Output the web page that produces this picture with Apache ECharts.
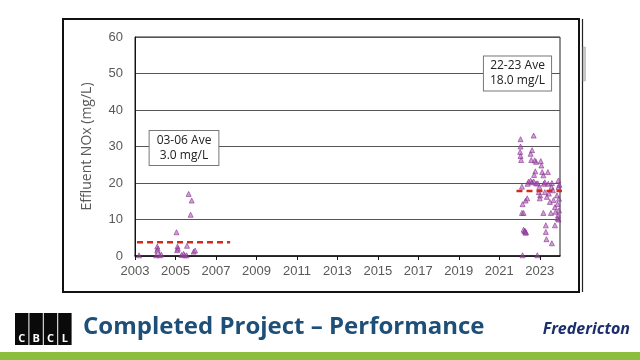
<!DOCTYPE html>
<html>
<head>
<meta charset="utf-8">
<script src="https://cdn.jsdelivr.net/npm/echarts@6/dist/echarts.min.js"></script>
<style>
html,body{margin:0;padding:0;background:#fff;}
#chart{width:640px;height:360px;}
</style>
</head>
<body>
<div id="chart"></div>
<script>
// ---- data ----
const yearTicks = [2003, 2005, 2007, 2009, 2011, 2013, 2015, 2017, 2019, 2021, 2023];
const samples0306 = [
  [2003.2, 0.2], [2004.1, 2.6], [2004.12, 2.0], [2004.1, 1.5], [2004.05, 0.2], [2004.22, 0.2], [2004.3, 0.4],
  [2005.05, 6.5], [2005.1, 2.6], [2005.12, 2.0], [2005.08, 1.6], [2005.3, 0.3], [2005.4, 0.6], [2005.45, 0.2],
  [2005.55, 0.2], [2005.57, 2.8], [2005.65, 17.0], [2005.8, 15.2], [2005.75, 11.3], [2005.9, 1.2], [2005.97, 1.5]
];
const samples2223 = [
  [2022.05, 32.0], [2022.05, 30.0], [2022.03, 28.5], [2022.05, 27.4], [2022.08, 26.3], [2022.12, 19.0],
  [2022.15, 14.2], [2022.12, 11.8], [2022.2, 11.8], [2022.15, 0.2], [2022.2, 7.2], [2022.25, 6.8],
  [2022.3, 6.4], [2022.27, 6.9], [2022.32, 6.5], [2022.3, 15.2], [2022.38, 15.8], [2022.4, 19.8],
  [2022.45, 20.4], [2022.55, 28.0], [2022.62, 29.0], [2022.7, 33.0], [2022.58, 26.3], [2022.75, 26.2],
  [2022.82, 25.8], [2022.78, 23.2], [2022.72, 22.2], [2022.7, 20.4], [2022.82, 19.9], [2022.9, 19.9],
  [2022.55, 20.6], [2022.62, 20.2], [2022.88, 0.2], [2022.98, 18.9], [2022.95, 17.5], [2023.02, 16.6],
  [2023.05, 26.0], [2023.08, 24.8], [2023.12, 23.0], [2023.18, 22.1], [2023.0, 15.8], [2023.2, 19.8],
  [2023.25, 17.5], [2023.18, 11.8], [2023.3, 8.4], [2023.3, 6.6], [2023.33, 4.6], [2023.35, 16.2],
  [2023.4, 23.0], [2023.42, 19.8], [2023.45, 17.1], [2023.5, 14.8], [2023.55, 11.8], [2023.58, 18.9],
  [2023.6, 3.5], [2023.65, 18.0], [2023.68, 15.3], [2023.75, 8.4], [2023.75, 13.4], [2023.78, 12.1],
  [2023.85, 16.6], [2023.88, 14.2], [2023.9, 11.1], [2023.92, 20.7], [2023.93, 18.9], [2023.95, 15.7],
  [2023.93, 10.0], [2023.88, 10.3], [2023.95, 12.5], [2023.97, 19.5], [2023.6, 20.0], [2023.25, 20.2]
];
const avg0306 = [[2003.1, 3.8], [2007.7, 3.8]];
const avg2223 = [[2021.85, 17.8], [2024.25, 17.8]];
const avgLabels = ['03-06 Ave\n3.0 mg/L', '22-23 Ave\n18.0 mg/L'];
const yAxisName = 'Effluent NOx (mg/L)';
const titleText = 'Completed Project \u2013 Performance';
const logoLetters = ['C', 'B', 'C', 'L'];

// ---- chart ----
const chart = echarts.init(document.getElementById('chart'), null, {renderer: 'canvas'});
const labelFont = 'Liberation Sans, Arial, sans-serif';

const logoGraphics = [];
logoLetters.forEach((ch, i) => {
  logoGraphics.push({
    type: 'rect', shape: {x: 15 + i * 14.4, y: 313, width: 13.4, height: 32},
    style: {fill: '#0a0a0a'}, z: 10
  });
  logoGraphics.push({
    type: 'text', x: 15 + i * 14.4 + 6.7, y: 339,
    style: {text: ch, fill: '#fff', font: 'bold 11px "Open Sans", sans-serif', align: 'center', verticalAlign: 'middle'},
    z: 11
  });
});

const option = {
  backgroundColor: '#fff',
  animation: false,
  grid: {left: 135, right: 80, top: 37, bottom: 104, show: true, borderColor: '#222', borderWidth: 1, backgroundColor: 'transparent'},
  xAxis: {
    type: 'value', min: 2003, max: 2024,
    axisLine: {show: true, lineStyle: {color: '#111', width: 1.5}},
    axisTick: {show: true, customValues: yearTicks, length: 4, lineStyle: {color: '#111'}},
    axisLabel: {customValues: yearTicks, color: '#595959', fontSize: 13, fontFamily: labelFont, margin: 9,
      formatter: v => String(v)},
    splitLine: {show: false}
  },
  yAxis: {
    type: 'value', min: 0, max: 60, interval: 10,
    name: yAxisName, nameLocation: 'middle', nameGap: 41,
    nameTextStyle: {color: '#595959', fontSize: 14, fontFamily: '"Open Sans", sans-serif'},
    axisLine: {show: true, lineStyle: {color: '#111'}},
    axisTick: {show: false},
    axisLabel: {color: '#595959', fontSize: 13, fontFamily: labelFont, margin: 12},
    splitLine: {show: true, lineStyle: {color: '#555', width: 1}}
  },
  series: [
    {type: 'scatter', data: samples0306, symbol: 'triangle', symbolSize: 5,
      itemStyle: {color: 'rgba(165,70,175,0.65)', borderColor: '#8a3892', borderWidth: 0.8}, z: 3},
    {type: 'scatter', data: samples2223, symbol: 'triangle', symbolSize: 5,
      itemStyle: {color: 'rgba(165,70,175,0.65)', borderColor: '#8a3892', borderWidth: 0.8}, z: 3},
    {type: 'line', data: avg0306, symbol: 'none', clip: false,
      lineStyle: {color: '#d42a1e', width: 2.5, type: [6, 4]}, z: 4},
    {type: 'line', data: avg2223, symbol: 'none', clip: false,
      lineStyle: {color: '#d42a1e', width: 2.5, type: [6, 4]}, z: 4}
  ],
  graphic: [
    {type: 'rect', shape: {x: 63, y: 19, width: 516, height: 273}, style: {fill: 'none', stroke: '#111', lineWidth: 2}, z: 1},
    {type: 'line', shape: {x1: 582.5, y1: 19, x2: 582.5, y2: 292}, style: {stroke: '#222', lineWidth: 1.2}, z: 1},
    {type: 'rect', shape: {x: 583, y: 47, width: 2.5, height: 34}, style: {fill: '#c9c9c9', stroke: '#aaa', lineWidth: 0.5}, z: 1},
    {type: 'text', x: 184, y: 148, z: 20,
      style: {text: avgLabels[0], fill: '#222', font: '12px "Open Sans", sans-serif', align: 'center', verticalAlign: 'middle',
        backgroundColor: '#fff', borderColor: '#777', borderWidth: 1, padding: [2, 7, 2, 7], lineHeight: 15}},
    {type: 'text', x: 517.5, y: 73.5, z: 20,
      style: {text: avgLabels[1], fill: '#222', font: '12px "Open Sans", sans-serif', align: 'center', verticalAlign: 'middle',
        backgroundColor: '#fff', borderColor: '#777', borderWidth: 1, padding: [2, 6, 2, 6], lineHeight: 15}},
    ...logoGraphics,
    {type: 'text', x: 83, y: 327, z: 10,
      style: {text: titleText, fill: '#1d4f78', font: 'bold 24px "Open Sans", sans-serif', verticalAlign: 'middle'}},
    {type: 'text', x: 630, y: 329, z: 10,
      style: {text: 'Fredericton', fill: '#1c2f6d', font: 'italic bold 16px "Open Sans", sans-serif', align: 'right', verticalAlign: 'middle'}},
    {type: 'rect', shape: {x: 0, y: 352, width: 640, height: 8}, style: {fill: '#8cbd3c'}, z: 10}
  ]
};
chart.setOption(option);
</script>
</body>
</html>
